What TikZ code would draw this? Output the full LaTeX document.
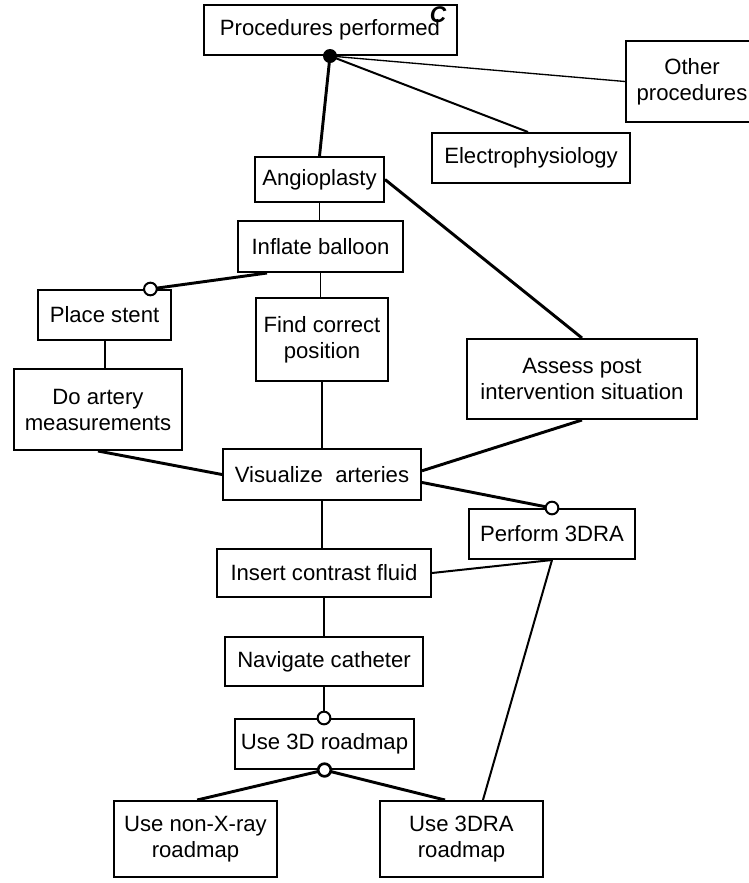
\documentclass[tikz,border=0pt]{standalone}
\usepackage{fontspec}
\setmainfont{Liberation Sans}
\usetikzlibrary{calc}
\begin{document}
\begin{tikzpicture}[x=0.75pt,y=-0.75pt,
  box/.style={draw, line width=1.5pt, fill=white, inner sep=0pt, align=center,
    font=\fontsize{16.6}{19.5}\selectfont},
  bx/.style 2 args={minimum width={#1*0.75pt}, minimum height={#2*0.75pt}},
  thinlink/.style={line width=1pt},
  midlink/.style={line width=1.5pt},
  thicklink/.style={line width=2.2pt},
  optional/.style={circle, draw, line width=1.5pt, fill=white, inner sep=0pt, minimum size=9.5pt},
  mandatory/.style={circle, fill=black, inner sep=0pt, minimum size=10.5pt}]
\useasboundingbox (0,0) rectangle (749,883);

% feature boxes
\node[box, bx={253}{50}]  (proc)    at (330,30)    {Procedures performed};
\node[box, bx={132}{81}]  (other)   at (692,81.5)  {Other\\procedures};
\node[box, bx={198}{50}]  (elec)    at (531,158)   {Electrophysiology};
\node[box, bx={129}{45}]  (angio)   at (319.5,179.5) {Angioplasty};
\node[box, bx={165}{51}]  (inflate) at (320.5,246.5) {Inflate balloon};
\node[box, bx={133}{50}]  (stent)   at (104.5,315) {Place stent};
\node[box, bx={132}{83}]  (find)    at (322,339.5) {Find correct\\position};
\node[box, bx={230}{80}]  (assess)  at (582,379)   {Assess post\\intervention situation};
\node[box, bx={168}{81}]  (artery)  at (98,409.5)  {Do artery\\measurements};
\node[box, bx={198}{51}]  (vis)     at (322,474.5) {Visualize~~arteries};
\node[box, bx={166}{50}]  (pdra)    at (552,534)   {Perform 3DRA};
\node[box, bx={214}{48}]  (insert)  at (324,573)   {Insert contrast fluid};
\node[box, bx={198}{49}]  (nav)     at (324,661.5) {Navigate catheter};
\node[box, bx={179}{50}]  (road)    at (324.5,744) {Use 3D roadmap};
\node[box, bx={163}{76}]  (nonx)    at (195.5,839) {Use non-X-ray\\roadmap};
\node[box, bx={163}{76}]  (rdra)    at (461.5,839) {Use 3DRA\\roadmap};

\node[font=\fontsize{17}{17}\selectfont\bfseries\itshape] (cmark) at (438,15) {C};

% connectors
\coordinate (dot) at (proc.south);
\draw[thicklink] (dot) -- (angio.north);
\draw[midlink]   (dot) -- ($(elec.north west)!0.485!(elec.north east)$);
\draw[thinlink]  (dot) -- (other.west);

\draw[thinlink]  (angio.south) -- (angio.south |- inflate.north);
\draw[thicklink] (angio.east) -- (assess.north);
\coordinate (stenttop) at ($(stent.north west)!0.84!(stent.north east)$);
\draw[thicklink] ($(inflate.south west)!0.18!(inflate.south east)$) -- (stenttop);
\draw[thinlink]  (inflate.south) -- (inflate.south |- find.north);
\draw[thinlink]  (find.south) -- (vis.north);
\draw[midlink]   (stent.south) -- (stent.south |- artery.north);
\draw[thicklink] (artery.south) -- (vis.west);
\draw[thicklink] ($(vis.north east)!0.43!(vis.south east)$) -- (assess.south);
\draw[thicklink] ($(vis.north east)!0.65!(vis.south east)$) -- (pdra.north);
\draw[thinlink]  (vis.south) -- (vis.south |- insert.north);
\draw[midlink]   (insert.east) -- (pdra.south);
\draw[thinlink]  (insert.south) -- (insert.south |- nav.north);
\draw[thinlink]  (nav.south) -- (nav.south |- road.north);
\draw[thicklink] (road.south) -- ($(nonx.north west)!0.51!(nonx.north east)$);
\draw[thicklink] (road.south) -- ($(rdra.north west)!0.4!(rdra.north east)$);
\draw[midlink]   (pdra.south) -- ($(rdra.north west)!0.63!(rdra.north east)$);

% group and optional markers
\node[mandatory] (dotmark) at (dot) {};
\node[optional] (o1) at (stenttop) {};
\node[optional] (o2) at (pdra.north) {};
\node[optional] (o3) at (nav.south |- road.north) {};
\node[optional, line width=2pt] (o4) at (road.south) {};
\end{tikzpicture}
\end{document}
